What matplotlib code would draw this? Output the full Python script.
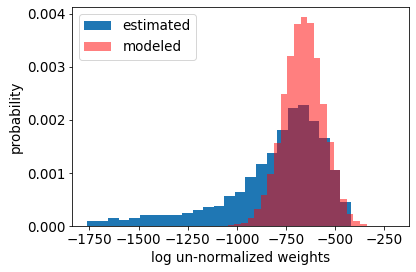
import numpy as np
import matplotlib
matplotlib.use("Agg")
import matplotlib.pyplot as plt

# Estimated histogram (density), 25 bins
est_start, est_end = -1761.7, -420.2
est_heights = [0.0001, 0.0001, 0.000156, 0.000118, 0.000156,
               0.000212, 0.000212, 0.000212, 0.000212, 0.00025,
               0.000306, 0.000362, 0.00038, 0.000569, 0.000644,
               0.000926, 0.00117, 0.00138, 0.00181, 0.00223,
               0.00228, 0.00198, 0.00166, 0.00106, 0.000462]

# Modeled histogram (density), 25 bins (last few nearly empty)
mod_start, mod_end = -1046.7, -206.0
mod_heights = [0.00002, 0.00005, 0.00007, 0.000160, 0.000325,
               0.000588, 0.000988, 0.00156, 0.00248, 0.0032,
               0.0038, 0.00394, 0.00382, 0.00317, 0.0023,
               0.00159, 0.00106, 0.000513, 0.000231, 0.0001,
               0.000043, 0.0, 0.0, 0.0, 0.0]

xticks = [-1750, -1500, -1250, -1000, -750, -500, -250]
yticks = [0.000, 0.001, 0.002, 0.003, 0.004]

plt.rcParams['font.size'] = 13.5
fig = plt.figure(figsize=(416/72, 272/72), dpi=72)
ax = fig.add_axes([72.3/416, (272-226.3)/272, (409-72.3)/416, (226.3-7.3)/272])

est_edges = np.linspace(est_start, est_end, len(est_heights) + 1)
mod_edges = np.linspace(mod_start, mod_end, len(mod_heights) + 1)
est_centers = (est_edges[:-1] + est_edges[1:]) / 2
mod_centers = (mod_edges[:-1] + mod_edges[1:]) / 2

ax.hist(est_centers, bins=est_edges, weights=est_heights, color='#1f77b4', label='estimated')
ax.hist(mod_centers, bins=mod_edges, weights=mod_heights, color='red', alpha=0.5, label='modeled')

ax.set_xlim(-1836.4, -125.5)
ax.set_ylim(0, 0.00412)
ax.set_xticks(xticks)
ax.set_yticks(yticks)
ax.set_yticklabels([f"{v:.3f}" for v in yticks])
ax.set_xlabel('log un-normalized weights')
ax.set_ylabel('probability')
ax.legend(loc='upper left')

fig.savefig('out.png', dpi=72)
